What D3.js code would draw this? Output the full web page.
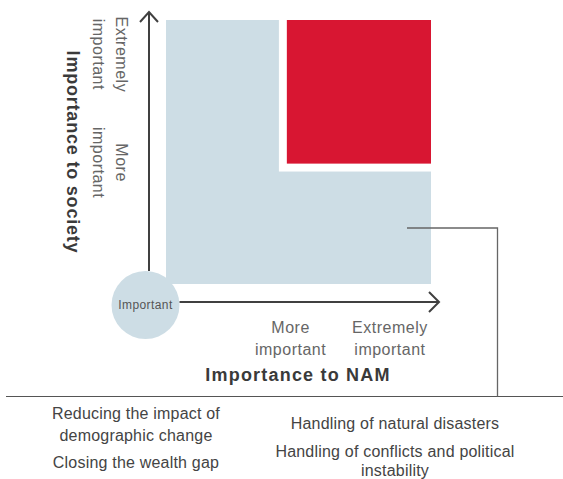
<!DOCTYPE html>
<html>
<head>
<meta charset="utf-8">
<script src="https://cdn.jsdelivr.net/npm/d3@7"></script>
<style>
html,body{margin:0;padding:0;background:#fff;}
svg{display:block;font-family:"Liberation Sans",Arial,Helvetica,sans-serif;}
</style>
</head>
<body>
<svg id="chart" width="563" height="479"></svg>
<script>
// ---- data ----
const axisLevels = ["Important", "More important", "Extremely important"];
const xTickValues = [47, 84.5];      // NAM score where level labels sit (0-100)
const yTickValues = [46, 87];        // society score where level labels sit (0-100)
const extremeThreshold = 45.6;       // score from which both are "extremely important"
const gapScore = 3;                  // white separation around the red quadrant
const xTitle = "Importance to NAM";
const yTitle = "Importance to society";
const leftItems = ["Reducing the impact of", "demographic change", "Closing the wealth gap"];
const rightItems = ["Handling of natural disasters", "Handling of conflicts and political", "instability"];

// ---- layout ----
const svg = d3.select("#chart");
const x = d3.scaleLinear().domain([0, 100]).range([166, 431]);
const y = d3.scaleLinear().domain([0, 100]).range([284, 20]);

const blue = "#cddde5", red = "#d81632", axisCol = "#404040";

// base square (light blue)
svg.append("rect")
  .attr("x", x(0)).attr("y", y(100))
  .attr("width", x(100) - x(0)).attr("height", y(0) - y(100))
  .attr("fill", blue);
// white gap
svg.append("rect")
  .attr("x", x(extremeThreshold - gapScore)).attr("y", y(100))
  .attr("width", x(100) - x(extremeThreshold - gapScore))
  .attr("height", y(extremeThreshold - gapScore) - y(100))
  .attr("fill", "#fff");
// red quadrant
svg.append("rect")
  .attr("x", x(extremeThreshold)).attr("y", y(100))
  .attr("width", x(100) - x(extremeThreshold))
  .attr("height", y(extremeThreshold) - y(100))
  .attr("fill", red);

// origin circle
const cx = 145.5, cy = 305, r = 34;
svg.append("circle").attr("cx", cx).attr("cy", cy).attr("r", r).attr("fill", blue);
svg.append("text").attr("x", cx).attr("y", cy).attr("dy", "0.35em")
  .attr("text-anchor", "middle").attr("font-size", 12).attr("letter-spacing", 0.4)
  .attr("fill", "#555").text(axisLevels[0]);

// axes
const yAxisX = 149, xAxisY = 302;
svg.append("line").attr("x1", yAxisX).attr("x2", yAxisX).attr("y1", 12).attr("y2", cy - r)
  .attr("stroke", axisCol).attr("stroke-width", 2);
svg.append("path").attr("d", `M${yAxisX - 9},${22} L${yAxisX},${12} L${yAxisX + 9},${22}`)
  .attr("fill", "none").attr("stroke", axisCol).attr("stroke-width", 2);
svg.append("line").attr("x1", cx + r).attr("x2", 439).attr("y1", xAxisY).attr("y2", xAxisY)
  .attr("stroke", axisCol).attr("stroke-width", 2);
svg.append("path").attr("d", `M${429},${xAxisY - 10} L${439},${xAxisY} L${429},${xAxisY + 10}`)
  .attr("fill", "none").attr("stroke", axisCol).attr("stroke-width", 2);

// x tick labels
const lineGap = 21.5;
function splitLabel(s) { const i = s.lastIndexOf(" "); return [s.slice(0, i), s.slice(i + 1)]; }
axisLevels.slice(1).forEach((lab, i) => {
  const t = svg.append("text").attr("text-anchor", "middle").attr("font-size", 16)
    .attr("letter-spacing", 0.5).attr("fill", "#666")
    .attr("transform", `translate(${x(xTickValues[i])},${338.5})`);
  splitLabel(lab).forEach((w, j) => {
    t.append("tspan").attr("x", 0).attr("y", (j - 0.5) * lineGap).attr("dy", "0.35em").text(w);
  });
});
// y tick labels (rotated)
axisLevels.slice(1).forEach((lab, i) => {
  const t = svg.append("text").attr("text-anchor", "middle").attr("font-size", 16)
    .attr("letter-spacing", 0.5).attr("fill", "#666")
    .attr("transform", `translate(${110.4},${y(yTickValues[i])}) rotate(90)`);
  splitLabel(lab).forEach((w, j) => {
    t.append("tspan").attr("x", 0).attr("y", (j - 0.5) * 22.7).attr("dy", "0.35em").text(w);
  });
});

// axis titles
svg.append("text").attr("x", 298).attr("y", 375).attr("dy", "0.35em")
  .attr("text-anchor", "middle").attr("font-size", 18).attr("font-weight", "bold")
  .attr("letter-spacing", 1.2).attr("fill", "#3a3a3a").text(xTitle);
svg.append("text").attr("transform", `translate(73,152) rotate(90)`).attr("dy", "0.35em")
  .attr("text-anchor", "middle").attr("font-size", 18).attr("font-weight", "bold")
  .attr("letter-spacing", 0.8).attr("fill", "#3a3a3a").text(yTitle);

// separator + connector
svg.append("line").attr("x1", 6).attr("x2", 563).attr("y1", 396.5).attr("y2", 396.5)
  .attr("stroke", "#555").attr("stroke-width", 1);
svg.append("path").attr("d", `M407,228 H497.5 V396.5`)
  .attr("fill", "none").attr("stroke", "#666").attr("stroke-width", 1.3);

// item lists
const leftY = [413, 435, 462], rightY = [423, 451, 470];
leftItems.forEach((s, i) => {
  svg.append("text").attr("x", 136).attr("y", leftY[i]).attr("dy", "0.35em")
    .attr("text-anchor", "middle").attr("font-size", 16).attr("letter-spacing", 0.2)
    .attr("fill", "#444").text(s);
});
rightItems.forEach((s, i) => {
  svg.append("text").attr("x", 395).attr("y", rightY[i]).attr("dy", "0.35em")
    .attr("text-anchor", "middle").attr("font-size", 16).attr("letter-spacing", 0.2)
    .attr("fill", "#444").text(s);
});
</script>
</body>
</html>
